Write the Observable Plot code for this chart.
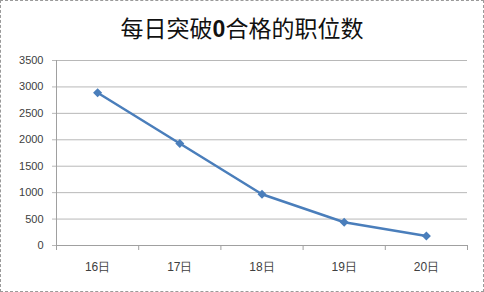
<!DOCTYPE html>
<html>
<head>
<meta charset="utf-8">
<script src="https://cdn.jsdelivr.net/npm/d3@7"></script>
<script src="https://cdn.jsdelivr.net/npm/@observablehq/plot@0.6"></script>
<style>
  html, body { margin: 0; padding: 0; background: white; }
  #chart { position: relative; width: 484px; height: 292px; box-sizing: border-box; border: 1px dashed #9a9a9a; background: white; overflow: hidden; }
  #title { height: 49px; padding-top: 4px; box-sizing: border-box; line-height: 44px; text-align: center; font-family: "Noto Sans CJK SC", sans-serif; font-size: 23px; color: #111; }
  #title b { font-family: "Liberation Sans", Arial, sans-serif; font-weight: bold; }
  svg { display: block; }
</style>
</head>
<body>
<div id="chart"><div id="title">每日突破<b>0</b>合格的职位数</div></div>
<script>
const categories = ["16日", "17日", "18日", "19日", "20日"];
const values = [2890, 1930, 970, 440, 180];
const yTicks = [0, 500, 1000, 1500, 2000, 2500, 3000, 3500];

const data = categories.map((c, i) => ({idx: i + 1, label: c, value: values[i]}));
const idxs = data.map(d => d.idx);
const edges = [0.5].concat(idxs.map(i => i + 0.5));

const plot = Plot.plot({
  width: 482,
  height: 241,
  marginTop: 10,
  marginBottom: 46,
  marginLeft: 55,
  marginRight: 16,
  style: {fontFamily: "'Liberation Sans', Arial, sans-serif", fontSize: "11px", color: "#404040", background: "white"},
  x: {domain: [edges[0], edges[edges.length - 1]], axis: null},
  y: {domain: [0, yTicks[yTicks.length - 1]], axis: null},
  marks: [
    Plot.gridY(yTicks, {stroke: "#b8b8b8", strokeOpacity: 1}),
    Plot.axisY(yTicks, {tickSize: 4, tickPadding: 9, stroke: "#b8b8b8", tickFormat: d => String(d), fontSize: 11, label: null}),
    Plot.ruleX(edges.slice(0, 1), {stroke: "#a0a0a0"}),
    Plot.ruleY([0], {stroke: "#a0a0a0"}),
    Plot.axisX(edges, {tickSize: 5, tickFormat: () => "", stroke: "#a0a0a0", label: null}),
    Plot.axisX(idxs, {tickSize: 0, tickPadding: 17, tickFormat: i => categories[i - 1], fontSize: 12, label: null}),
    Plot.line(data, {x: "idx", y: "value", stroke: "#4a7ebb", strokeWidth: 2.5}),
    Plot.dot(data, {x: "idx", y: "value", symbol: "square", rotate: 45, r: 3.6, fill: "#4a7ebb", stroke: "none"})
  ]
});
document.getElementById("chart").appendChild(plot);
</script>
</body>
</html>
